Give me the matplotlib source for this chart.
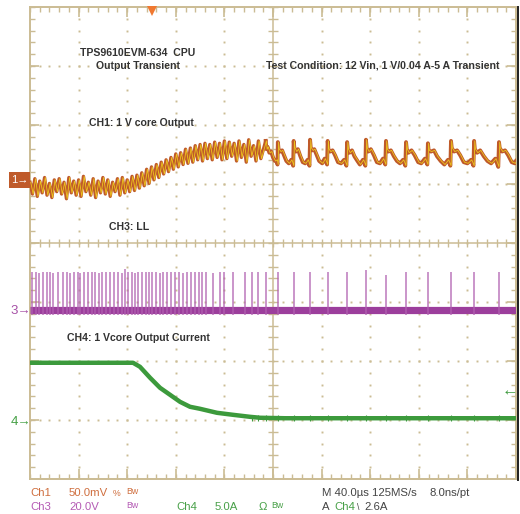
import matplotlib
matplotlib.use('Agg')
import matplotlib.pyplot as plt
from matplotlib.patches import Rectangle
import numpy as np

# scope settings
t_div = 40.0          # us / div
ch1_scale = 50.0      # mV / div
ch3_scale = 20.0      # V / div
ch4_scale = 5.0       # A / div
ch1_ref = 1.07        # ground markers, in div from screen centre
ch3_ref = -1.14
ch4_ref = -3.03
trig_t = 100.0        # us
trig_level = 2.6      # A

# CH1: 1 V core output ripple (us, mV)
ch1_pts = [(0,-2),(2,-12),(4,1),(6,-14),(8,-1),(10,-11),(12,2),(14,-13),(16,-3),(18,-15),
           (20,0),(22,-10),(24,1),(26,-12),(28,-2),(30,-16),(32,2),(34,-11),(36,-1),(38,-13),
           (40,0),(42,-14),(44,3),(46,-10),(48,-2),(50,-13),(52,1),(54,-15),(56,-1),(58,-11),
           (60,2),(62,-12),(64,0),(66,-14),(68,-2),(70,-10),(72,1),(74,-13),(76,2),(78,-11),
           (80,0),(82,-10),(84,3),(86,-9),(88,4),(90,-7),(92,6),(94,-5),(96,9),(98,-3),
           (100,11),(102,0),(104,13),(106,2),(108,15),(110,5),(112,17),(114,7),(116,19),(118,9),
           (120,22),(122,11),(124,23),(126,13),(128,26),(130,14),(132,27),(134,15),(136,29),(138,17),
           (140,30),(142,16),(144,31),(146,18),(148,30),(150,17),(152,32),(154,19),(156,31),(158,17),
           (160,33),(162,18),(164,32),(166,20),(168,31),(170,16),(172,33),(174,19),(176,30),(178,15),
           (180,34),(182,20),(184,29),(186,16),(188,33),(190,18),
           (194,33),(194.6,26),(195.5,28),(197,23),(198.5,24),(200,19),(201.5,16),(203,17),(203.7,13),
           (204,32),(204.6,26),(206,24),(207.5,25),(209,21),(211,16),(213,14),(215,17),(216.6,12),
           (217,33),(217.6,27),(219,24),(220.5,26),(222.5,20),(224.5,15),(226.5,14),(228.5,17),(230,12),
           (230.5,34),(231.1,27),(232.5,25),(234,26),(236,21),(238,16),(240.5,14),(242.5,18),(244.5,13),
           (245,33),(245.6,26),(247,24),(249,25),(251,21),(253.5,15),(256,14),(258.5,17),(260.4,12),
           (261,32),(261.6,26),(263,23),(265,25),(267,20),(269.5,16),(271.5,13),(274,17),(276,12),
           (276.5,34),(277.1,27),(278.5,24),(280.5,26),(283,21),(285.5,15),(288,14),(290.5,18),(292.4,13),
           (293,33),(293.6,26),(295,24),(297,25),(299.5,20),(302,16),(304.5,14),(307,17),(308.9,12),
           (309.5,32),(310.1,26),(311.5,23),(314,25),(316.5,21),(319.5,15),(322,14),(325,18),(327,13),
           (327.5,31),(328.1,25),(330,24),(332.5,25),(335,20),(338,16),(341,13),(344,17),(346,12),
           (346.5,33),(347.1,27),(349,24),(351.5,25),(354,21),(357,15),(360,14),(363,17),(365,12),
           (365.5,33),(366.1,26),(368,23),(370.5,25),(373.5,20),(376.5,16),(379.5,14),(383,18),(385.4,11),
           (386,32),(386.6,27),(388.5,24),(391,25),(393.5,21),(396.5,15),(399,14),(400,16)]

# CH3: LL switch node pulses (us, V)
ch3_spike_t = [1.4,4.7,7.4,10.9,13.7,16.5,19.2,23.3,27.4,30.2,32.9,36.5,39.3,41.2,44.7,48.0,
               50.8,53.5,56.8,59.5,62.3,65.8,69.4,72.7,75.5,78.2,80.9,83.7,86.4,89.1,91.9,95.2,
               97.9,100.7,103.7,107.0,109.7,113.0,115.8,119.3,122.9,126.2,129.5,132.3,135.8,139.3,
               141.6,144.8,150.6,156.4,159.7,167.1,177.0,182.7,187.6,194.2,204.1,217.3,230.5,245.3,
               260.9,276.5,293.0,309.4,327.6,346.5,365.4,386.0]
ch3_spike_v = [12.9,12.9,12.6,12.9,13.0,12.9,12.7,12.9,12.9,13.0,12.8,12.9,12.9,12.6,12.9,12.9,
               13.0,12.9,12.8,12.9,12.9,12.9,13.0,12.9,12.7,14.0,12.9,12.9,12.8,12.9,12.9,12.9,
               13.0,12.9,12.9,12.8,12.9,12.9,12.9,12.9,12.9,12.7,12.9,12.9,13.0,12.9,
               12.9,12.9,12.8,12.9,12.9,12.9,12.9,12.9,12.9,12.9,12.9,12.9,12.9,12.9,
               12.9,13.5,12.0,12.9,12.9,12.9,12.9,12.9]

# CH4: 1 Vcore output current (us, A)
ch4_t = [0, 84.8, 90.5, 98.8, 107.0, 115.2, 123.5, 131.7, 139.9, 153.9, 167.1, 181.1, 189.3, 210, 400]
ch4_a = [5.0, 5.0, 4.66, 3.73, 2.88, 2.29, 1.69, 1.27, 1.10, 0.76, 0.59, 0.42, 0.34, 0.30, 0.30]

GRID = '#CBBC94'
C1 = '#BF5A2A'
C1Y = '#F2D21C'
C3 = '#9C3E9C'
C4 = '#3C9A3C'
TXT = '#333333'

W, H = 520, 514
fig = plt.figure(figsize=(W / 100, H / 100), dpi=100)
ax = fig.add_axes([30 / W, 1 - 479 / H, 486 / W, 472 / H])
ax.set_xlim(0, 10 * t_div)
ax.set_ylim(-4, 4)
ax.set_xticks([])
ax.set_yticks([])
for s in ax.spines.values():
    s.set_color(GRID)
    s.set_linewidth(1.4)

def fx(px):
    return px / W

def fy(py):
    return 1 - py / H

# graticule
mx = np.arange(0, 400.1, t_div / 5)
my = np.arange(-4, 4.01, 0.2)
for gx in range(1, 10):
    if gx == 5:
        continue
    ax.plot(np.full_like(my, gx * t_div), my, ls='none', marker='s', ms=1.4, mew=0, color=GRID, zorder=1)
for gy in range(-3, 4):
    if gy == 0:
        continue
    ax.plot(mx, np.full_like(mx, gy), ls='none', marker='s', ms=1.4, mew=0, color=GRID, zorder=1)
ax.axhline(0, color=GRID, lw=1.1, zorder=1)
ax.axvline(200, color=GRID, lw=1.1, zorder=1)
ax.vlines(mx, -0.07, 0.07, color=GRID, lw=1.0, zorder=1)
ax.hlines(my, 200 - 4.1, 200 + 4.1, color=GRID, lw=1.0, zorder=1)
major_x = np.arange(0, 400.1, t_div)
major_y = np.arange(-4, 4.01, 1.0)
ax.vlines(mx, 4 - 0.09, 4, color=GRID, lw=1.0)
ax.vlines(mx, -4, -4 + 0.09, color=GRID, lw=1.0)
ax.vlines(major_x, 4 - 0.17, 4, color=GRID, lw=1.2)
ax.vlines(major_x, -4, -4 + 0.17, color=GRID, lw=1.2)
ax.hlines(my, 0, 4.1, color=GRID, lw=1.0)
ax.hlines(my, 400 - 4.1, 400, color=GRID, lw=1.0)
ax.hlines(major_y, 0, 7.4, color=GRID, lw=1.2)
ax.hlines(major_y, 400 - 7.4, 400, color=GRID, lw=1.2)

# CH3 trace
ax.plot([0, 400], [ch3_ref, ch3_ref], color=C3, lw=5.2, solid_capstyle='butt', zorder=3)
ax.vlines(ch3_spike_t, ch3_ref - 1.5 / ch3_scale,
          [ch3_ref + v / ch3_scale for v in ch3_spike_v], color='#B060B0', lw=1.1, alpha=0.85, zorder=3)

# CH4 trace
ax.plot(ch4_t, [ch4_ref + a / ch4_scale for a in ch4_a], color=C4, lw=3.2, zorder=3)
ax.vlines([t for t in ch3_spike_t if t > 180], ch4_ref + 0.05 / ch4_scale, ch4_ref + 0.6 / ch4_scale,
          color=C4, lw=0.8, zorder=3)

# CH1 trace: noisy part thinner, sawtooth part thicker
c1_t = [p[0] for p in ch1_pts]
c1_y = [ch1_ref + p[1] / ch1_scale for p in ch1_pts]
n_noise = sum(1 for t in c1_t if t <= 190)
ax.plot(c1_t[:n_noise + 1], c1_y[:n_noise + 1], color=C1, lw=2.4, zorder=4)
ax.plot(c1_t[n_noise:], c1_y[n_noise:], color=C1, lw=2.8, zorder=4)
ax.plot([t + 0.6 for t in c1_t], c1_y, color=C1Y, lw=0.6, alpha=0.9, zorder=5)

# trigger position / level markers
ax.plot([trig_t], [3.93], marker='v', ms=7, color='#F07830', mew=0, clip_on=False, zorder=6)
fig.text(fx(510), fy(391), '\u2190', color=C4, fontsize=12, ha='center', va='center',
         family=['Liberation Sans', 'DejaVu Sans'])
fig.add_artist(plt.Line2D([fx(518), fx(518)], [fy(7), fy(480)], color='#1E1E1E', lw=1.4))

# channel ground markers
fig.add_artist(Rectangle((fx(9), fy(188)), 21 / W, 16 / H, color=C1, lw=0))
fig.text(fx(19.5), fy(180), '1\u2192', color='white', fontsize=8, ha='center', va='center',
         family=['Liberation Sans', 'DejaVu Sans'])
fig.text(fx(21), fy(311), '3\u2192', color='#A650A6', fontsize=9.5, ha='center', va='center',
         family=['Liberation Sans', 'DejaVu Sans'])
fig.text(fx(21), fy(422), '4\u2192', color='#45A045', fontsize=9.5, ha='center', va='center',
         family=['Liberation Sans', 'DejaVu Sans'])

# annotations
bold = dict(color=TXT, fontsize=7.6, fontweight='bold', family='Liberation Sans', va='center')
fig.text(fx(138), fy(53), 'TPS9610EVM-634  CPU', ha='center', **bold)
fig.text(fx(138), fy(66), 'Output Transient', ha='center', **bold)
fig.text(fx(266), fy(66), 'Test Condition: 12 Vin, 1 V/0.04 A-5 A Transient', ha='left', **bold)
fig.text(fx(141), fy(123), 'CH1: 1 V core Output', ha='center', **bold)
fig.text(fx(129), fy(227), 'CH3: LL', ha='center', **bold)
fig.text(fx(138), fy(338), 'CH4: 1 Vcore Output Current', ha='center', **bold)

# status readout
st = dict(fontsize=8.2, family=['Liberation Sans', 'DejaVu Sans'], va='center', ha='left')
sm = dict(fontsize=6.3, family=['Liberation Sans', 'DejaVu Sans'], va='center', ha='left')
O1, P3, G4, DK = '#CF6E3E', '#B45AB4', '#48A048', '#444444'
fig.text(fx(30), fy(493), 'Ch1', color=O1, **st)
fig.text(fx(69), fy(493), '%.1fmV' % ch1_scale, color=O1, **st)
fig.text(fx(113), fy(493), '%', color=O1, **sm)
fig.text(fx(126), fy(491), 'Bw', color=O1, **sm)
fig.text(fx(322), fy(493), 'M 40.0\u00b5s 125MS/s', color=DK, **st)
fig.text(fx(429), fy(493), '8.0ns/pt', color=DK, **st)
fig.text(fx(30), fy(507), 'Ch3', color=P3, **st)
fig.text(fx(69), fy(507), '%.1fV' % ch3_scale, color=P3, **st)
fig.text(fx(126), fy(505), 'Bw', color=P3, **sm)
fig.text(fx(176), fy(507), 'Ch4', color=G4, **st)
fig.text(fx(215), fy(507), '%.1fA' % ch4_scale, color=G4, **st)
fig.text(fx(259), fy(507), '\u03a9', color=G4, **st)
fig.text(fx(271), fy(505), 'Bw', color=G4, **sm)
fig.text(fx(322), fy(507), 'A', color=DK, **st)
fig.text(fx(334), fy(507), 'Ch4', color=G4, **st)
fig.text(fx(357), fy(507), '\\', color=DK, **sm)
fig.text(fx(364), fy(507), '%.1fA' % trig_level, color=DK, **st)

fig.savefig('out.png', dpi=100, facecolor='white')
